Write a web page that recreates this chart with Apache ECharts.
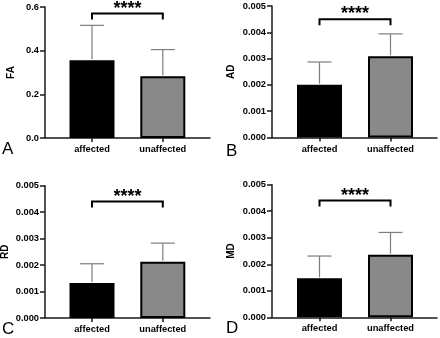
<!DOCTYPE html>
<html>
<head>
<meta charset="utf-8">
<script src="https://cdn.jsdelivr.net/npm/echarts@6/dist/echarts.min.js"></script>
<style>
  html, body { margin: 0; padding: 0; background: #fff; }
  #main { width: 440px; height: 338px; }
</style>
</head>
<body>
<div id="main"></div>
<script>
var categories = ['affected', 'unaffected'];

var faMean = [0.356, 0.283];
var faSd = [0.160, 0.122];
var adMean = [0.00201, 0.00309];
var adSd = [0.00086, 0.00085];
var rdMean = [0.00132, 0.00213];
var rdSd = [0.00073, 0.00070];
var mdMean = [0.00147, 0.00236];
var mdSd = [0.00084, 0.00084];

var axisNames = ['FA', 'AD', 'RD', 'MD'];
var panelLetters = ['A', 'B', 'C', 'D'];
var yMax = [0.6, 0.005, 0.005, 0.005];
var yStep = [0.2, 0.001, 0.001, 0.001];
var yDecimals = [1, 3, 3, 3];
var bracketLevel = [0.57, 0.0045, 0.0044, 0.0044];
var sigLabel = '****';

var means = [faMean, adMean, rdMean, mdMean];
var sds = [faSd, adSd, rdSd, mdSd];

// layout of each panel (pixels)
var panels = [
    { axisX: 45, axisEnd: 210, top: 7, bottom: 138, c0: 92, c1: 162.8, nameGap: 29, lx: 2, ly: 150 },
    { axisX: 272, axisEnd: 437, top: 6, bottom: 137.5, c0: 319.5, c1: 390.5, nameGap: 36, lx: 226, ly: 152 },
    { axisX: 45, axisEnd: 210, top: 185.7, bottom: 318, c0: 92, c1: 162.8, nameGap: 35, lx: 2, ly: 330 },
    { axisX: 272, axisEnd: 437, top: 184.7, bottom: 317.3, c0: 319.5, c1: 390.5, nameGap: 36, lx: 226, ly: 329 }
];

var fills = ['#000000', '#898989'];
var font = '"Liberation Sans", Arial, Helvetica, sans-serif';

var myChart = echarts.init(document.getElementById('main'));

var grid = [], xAxis = [], yAxis = [], series = [], graphic = [];

panels.forEach(function (p, i) {
    var h = p.bottom - p.top;
    var s = p.c1 - p.c0;
    // frame grid: axes lines, y ticks and labels
    grid.push({ left: p.axisX, top: p.top, width: p.axisEnd - p.axisX, height: h, outerBoundsMode: 'none' });
    // bar grid: category positions
    grid.push({ left: p.c0 - s / 2, top: p.top, width: 2 * s, height: h, outerBoundsMode: 'none' });

    xAxis.push({
        gridIndex: 2 * i, type: 'value', min: 0, max: 1,
        axisLine: { show: true, onZero: false, lineStyle: { color: '#1a1a1a', width: 1.5 } },
        axisTick: { show: false }, axisLabel: { show: false }, splitLine: { show: false }
    });
    xAxis.push({
        gridIndex: 2 * i + 1, type: 'category', data: categories,
        axisLine: { show: false },
        axisTick: { show: true, alignWithLabel: true, length: 4, lineStyle: { color: '#1a1a1a', width: 1.5 } },
        axisLabel: { color: '#000', fontWeight: 'bold', fontSize: 9.3, fontFamily: font, margin: 7 }
    });

    yAxis.push({
        gridIndex: 2 * i, type: 'value', min: 0, max: yMax[i], interval: yStep[i],
        name: axisNames[i], nameLocation: 'middle', nameGap: p.nameGap, nameRotate: 90,
        nameTextStyle: { color: '#000', fontWeight: 'bold', fontSize: 10, fontFamily: font },
        axisLine: { show: true, lineStyle: { color: '#1a1a1a', width: 1.5 } },
        axisTick: { show: true, length: 5, lineStyle: { color: '#1a1a1a', width: 1.5 } },
        axisLabel: {
            color: '#000', fontWeight: 'bold', fontSize: 9.3, fontFamily: font, margin: 6,
            formatter: (function (d) { return function (v) { return v.toFixed(d); }; })(yDecimals[i])
        },
        splitLine: { show: false }
    });
    yAxis.push({ gridIndex: 2 * i + 1, type: 'value', min: 0, max: yMax[i], show: false });

    series.push({
        type: 'bar', xAxisIndex: 2 * i + 1, yAxisIndex: 2 * i + 1, barWidth: 45,
        data: means[i].map(function (v, j) {
            return { value: v, itemStyle: { color: fills[j] } };
        }),
        itemStyle: { borderColor: '#000', borderWidth: 2 },
        z: 2
    });

    series.push({
        type: 'custom', xAxisIndex: 2 * i + 1, yAxisIndex: 2 * i + 1, z: 3, clip: false,
        encode: { x: 0, y: 1 },
        data: means[i].map(function (m, j) { return [j, m, sds[i][j]]; }),
        renderItem: function (params, api) {
            var x = api.value(0), m = api.value(1), sd = api.value(2);
            var p0 = api.coord([x, m]);
            var p1 = api.coord([x, m + sd]);
            var st = { stroke: '#7d7d7d', lineWidth: 1.2 };
            return {
                type: 'group',
                children: [
                    { type: 'line', shape: { x1: p0[0], y1: p0[1] - 1, x2: p1[0], y2: p1[1] }, style: st },
                    { type: 'line', shape: { x1: p1[0] - 12, y1: p1[1], x2: p1[0] + 12, y2: p1[1] }, style: st }
                ]
            };
        }
    });

    series.push({
        type: 'custom', xAxisIndex: 2 * i + 1, yAxisIndex: 2 * i + 1, z: 3, clip: false,
        encode: { x: 0, y: 1 },
        data: [[0, bracketLevel[i], 1]],
        renderItem: function (params, api) {
            var lvl = api.value(1);
            var a = api.coord([api.value(0), lvl]);
            var b = api.coord([api.value(2), lvl]);
            return {
                type: 'group',
                children: [
                    {
                        type: 'polyline',
                        shape: { points: [[a[0], a[1] + 6], [a[0], a[1]], [b[0], b[1]], [b[0], b[1] + 6]] },
                        style: { stroke: '#000', lineWidth: 2, fill: null }
                    },
                    {
                        type: 'text', x: (a[0] + b[0]) / 2, y: a[1] + 4,
                        style: {
                            text: sigLabel, fill: '#000', font: 'bold 18px ' + font,
                            textAlign: 'center', textVerticalAlign: 'bottom'
                        }
                    }
                ]
            };
        }
    });

    graphic.push({
        type: 'text', left: p.lx, top: p.ly - 9,
        style: { text: panelLetters[i], fill: '#000', font: '17px ' + font }
    });
});

var option = {
    animation: false,
    backgroundColor: '#fff',
    grid: grid,
    xAxis: xAxis,
    yAxis: yAxis,
    series: series,
    graphic: graphic
};

option && myChart.setOption(option);
window.addEventListener('resize', function () {
    myChart.resize();
});
</script>
</body>
</html>
